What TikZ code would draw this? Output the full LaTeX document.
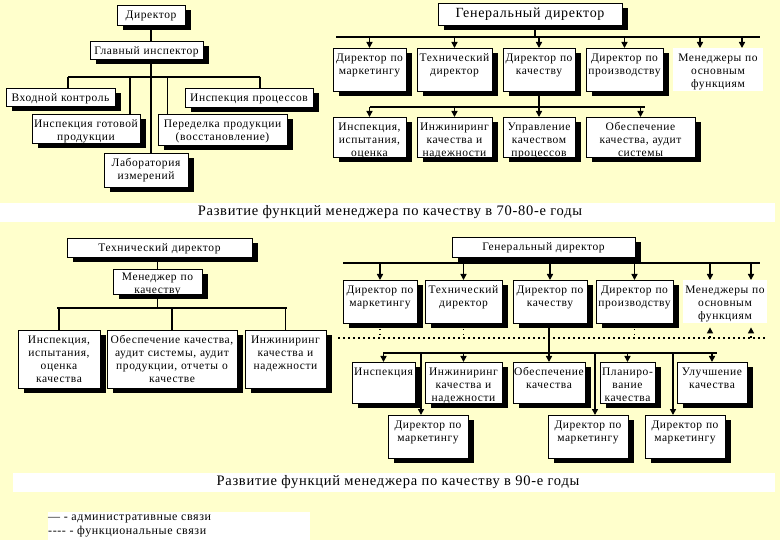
\documentclass[tikz,border=0pt]{standalone}
\usepackage{fontspec}
\setmainfont{Liberation Serif}[LetterSpace=5]
\usetikzlibrary{arrows.meta}
\usetikzlibrary{shadows}

\definecolor{paper}{RGB}{255,255,204}
\hyphenpenalty=10000
\exhyphenpenalty=10000

\tikzset{
  boxtext/.style={anchor=north, align=center, inner xsep=-4pt, inner ysep=3pt,
    text height=10pt, font=\fontsize{11.5}{13}\selectfont},
  box/.style={boxtext, draw, line width=0.8pt, fill=white,
    drop shadow={shadow xshift=6pt, shadow yshift=-5pt, fill=black, opacity=1}},
  menbox/.style={boxtext, fill=white},
  link/.style={line width=1.5pt},
  arr/.style={line width=1.5pt, -{Triangle[length=6pt,width=6pt]}},
  func/.style={line width=1.5pt, dash pattern=on 1.5pt off 3.5pt},
  captext/.style={font=\fontsize{14.5}{16}\selectfont},
  legtext/.style={anchor=west, inner sep=0pt, font=\fontsize{12}{13}\selectfont}
}

\begin{document}
\begin{tikzpicture}[x=1pt,y=-1pt]

    % page, caption bands and legend field
    \useasboundingbox (0,0) rectangle (780,540);
    \fill[paper] (0,0) rectangle (780,540);
    \fill[white] (0,203) rectangle (775,222);
    \fill[white] (13,473) rectangle (775,492);
    \fill[white] (48,512) rectangle (310,540);

    % 70-80: inspection chart
    \node[box, text width=76pt, text depth=4pt] (dir) at (151,5) {Директор};
    \node[box, text width=121pt, text depth=2pt] (chief) at (146.5,41) {Главный инспектор};
    \node[box, text width=117pt, text depth=2pt] (inp) at (60.5,88) {Входной контроль};
    \node[box, text width=136pt, text depth=3pt] (proc) at (249,88) {Инспекция процессов};
    \node[box, text width=116pt, text depth=13pt] (fin) at (86,114) {Инспекция готовой\\продукции};
    \node[box, text width=137pt, text depth=15pt] (rew) at (222.5,114) {Переделка продукции\\(восстановление)};
    \node[box, text width=92pt, text depth=18pt] (lab) at (146,153) {Лаборатория\\измерений};

    \draw[link] (dir.south) -- (dir.south |- chief.north);
    \draw[link] (chief.south -| dir.south) -- (lab.north -| dir.south);
    \coordinate (busA) at (68,77);
    \coordinate (busB) at (260,77);
    \draw[link] (busA) -- (busB);
    \draw[link] (busA) -- (busA |- inp.north);
    \draw[link] (busB) -- (busB |- proc.north);
    \coordinate (finT) at ([xshift=44pt]fin.north);
    \coordinate (rewT) at ([xshift=-55pt]rew.north);
    \draw[link] (finT |- busA) -- (finT);
    \draw[link] (rewT |- busA) -- (rewT);

    % 70-80: general director chart
    \node[box, font=\fontsize{14}{16}\selectfont, text height=11pt, text width=192pt, text depth=5pt] (gen1) at (530,3) {Генеральный директор};
    \node[box, text width=81pt, text depth=27pt] (mark1) at (369.5,48) {Директор по\\маркетингу};
    \node[box, text width=83pt, text depth=27pt] (tech1) at (454.5,48) {Технический\\директор};
    \node[box, text width=80pt, text depth=27pt] (qual1) at (539,48) {Директор по\\качеству};
    \node[box, text width=85pt, text depth=27pt] (prod1) at (624.5,48) {Директор по\\производству};
    \node[menbox, text width=98pt, text depth=27pt] (men1) at (718,48) {Менеджеры по\\основным\\функциям};
    \node[box, text width=81pt, text depth=24pt] (insp2) at (369.5,117) {Инспекция,\\испытания,\\оценка};
    \node[box, text width=83pt, text depth=24pt] (eng2) at (454.5,117) {Инжиниринг\\качества и\\надежности};
    \node[box, text width=80pt, text depth=24pt] (ctrl2) at (539,117) {Управление\\качеством\\процессов};
    \node[box, text width=117pt, text depth=24pt] (qa2) at (640.5,117) {Обеспечение\\качества, аудит\\системы};

    \coordinate (g1) at ([xshift=5pt]gen1.south);
    \coordinate (busC1) at (336,37);
    \coordinate (busC2) at (760,37);
    \draw[link] (g1) -- (g1 |- busC1);
    \draw[link] (busC1) -- (busC2);
    \foreach \n in {mark1,tech1,qual1,prod1}
      \draw[arr] (\n.north |- busC1) -- (\n.north);
    \coordinate (m1a) at ([xshift=-18pt]men1.north);
    \coordinate (m1b) at ([xshift=24pt]men1.north);
    \draw[arr] (m1a |- busC1) -- (m1a);
    \draw[arr] (m1b |- busC1) -- (m1b);

    \coordinate (busD1) at (370,107);
    \coordinate (busD2) at (645,107);
    \draw[link] (qual1.south) -- (qual1.south |- busD1);
    \draw[link] (busD1) -- (busD2);
    \foreach \n in {insp2,eng2,ctrl2,qa2}
      \draw[arr] (\n.north |- busD1) -- (\n.north);

    \node[captext] (cap1) at (390,212) {Развитие функций менеджера по качеству в 70-80-е годы};

    % 90: technical director chart
    \node[box, text width=193pt, text depth=3pt] (tech3) at (159.5,238) {Технический директор};
    \node[box, text width=97pt, text depth=11pt, text height=8pt] (mgr3) at (157.5,269) {Менеджер по\\качеству};
    \node[box, text width=90pt, text depth=42pt] (insp3) at (59,330) {Инспекция,\\испытания,\\оценка\\качества};
    \node[box, text width=138pt, text depth=42pt] (qa3) at (172,330) {Обеспечение качества,\\аудит системы, аудит\\продукции, отчеты о\\качестве};
    \node[box, text width=89pt, text depth=42pt] (eng3) at (285.5,330) {Инжиниринг\\качества и\\надежности};

    \draw[link] (mgr3.north |- tech3.south) -- (mgr3.north);
    \coordinate (busE1) at (57,308);
    \coordinate (busE2) at (287,308);
    \draw[link] (mgr3.south) -- (mgr3.south |- busE1);
    \draw[link] (busE1) -- (busE2);
    \foreach \n in {insp3,qa3,eng3}
      \draw[link] (\n.north |- busE1) -- (\n.north);

    % 90: general director chart
    \node[box, text width=191pt, text depth=4pt] (gen2) at (543.5,237) {Генеральный директор};
    \node[box, text width=82pt, text depth=27pt] (mark4) at (380,280) {Директор по\\маркетингу};
    \node[box, text width=85pt, text depth=27pt] (tech4) at (463.5,280) {Технический\\директор};
    \node[box, text width=82pt, text depth=27pt] (qual4) at (550,280) {Директор по\\качеству};
    \node[box, text width=85pt, text depth=27pt] (prod4) at (634.5,280) {Директор по\\производству};
    \node[menbox, text width=92pt, text depth=27pt] (men4) at (725,280) {Менеджеры по\\основным\\функциям};
    \node[box, text width=71pt, text depth=25pt] (insp5) at (383.5,362) {Инспекция};
    \node[box, text width=85pt, text depth=25pt] (eng5) at (463.5,362) {Инжиниринг\\качества и\\надежности};
    \node[box, text width=80pt, text depth=25pt] (qa5) at (549,362) {Обеспечение\\качества};
    \node[box, text width=63pt, text depth=25pt] (plan5) at (627.5,362) {Планиро-\\вание\\качества};
    \node[box, text width=78pt, text depth=25pt] (imp5) at (712,362) {Улучшение\\качества};
    \node[box, text width=88pt, text depth=27pt] (dm1) at (428,415) {Директор по\\маркетингу};
    \node[box, text width=88pt, text depth=27pt] (dm2) at (588,415) {Директор по\\маркетингу};
    \node[box, text width=88pt, text depth=27pt] (dm3) at (685,415) {Директор по\\маркетингу};

    \coordinate (busF1) at (343,263);
    \coordinate (busF2) at (760,263);
    \draw[link] (gen2.south) -- (gen2.south |- busF1);
    \draw[link] (busF1) -- (busF2);
    \foreach \n in {mark4,tech4,qual4,prod4}
      \draw[arr] (\n.north |- busF1) -- (\n.north);
    \coordinate (m4a) at ([xshift=-15pt]men4.north);
    \coordinate (m4b) at ([xshift=26pt]men4.north);
    \draw[arr] (m4a |- busF1) -- (m4a);
    \draw[arr] (m4b |- busF1) -- (m4b);

    % functional links
    \coordinate (funA) at (338,338);
    \coordinate (funB) at (768,338);
    \draw[func] (funA) -- (funB);
    \foreach \n in {mark4,tech4,prod4}
      \draw[func] (\n.south) -- (\n.south |- funA);
    \coordinate (m4c) at ([xshift=-15pt]men4.south);
    \coordinate (m4d) at ([xshift=26pt]men4.south);
    \draw[func,-{Triangle[length=6pt,width=6pt]}] (m4c |- funA) -- ([yshift=-4pt]m4c);
    \draw[func,-{Triangle[length=6pt,width=6pt]}] (m4d |- funA) -- ([yshift=-4pt]m4d);

    % administrative links below the quality director
    \draw[arr] (qa5.north |- qual4.south) -- (qa5.north);
    \coordinate (busG1) at (383,353);
    \coordinate (busG2) at (717,353);
    \draw[link] (busG1) -- (busG2);
    \foreach \n in {insp5,eng5,plan5,imp5}
      \draw[arr] (\n.north |- busG1) -- (\n.north);
    \coordinate (d1) at ([xshift=-7pt]dm1.north);
    \coordinate (d2) at ([xshift=7pt]dm2.north);
    \coordinate (d3) at ([xshift=-12pt]dm3.north);
    \draw[arr] (d1 |- busG1) -- (d1);
    \draw[arr] (d2 |- busG1) -- (d2);
    \draw[arr] (d3 |- busG1) -- (d3);

    \node[captext] (cap2) at (398,482) {Развитие функций менеджера по качеству в 90-е годы};

    % legend
    \node[legtext] (leg1) at (48,519) {— - административные связи};
    \node[legtext] (leg2) at (48,532) {{-}{-}{-}{-} - функциональные связи};

\end{tikzpicture}
\end{document}
